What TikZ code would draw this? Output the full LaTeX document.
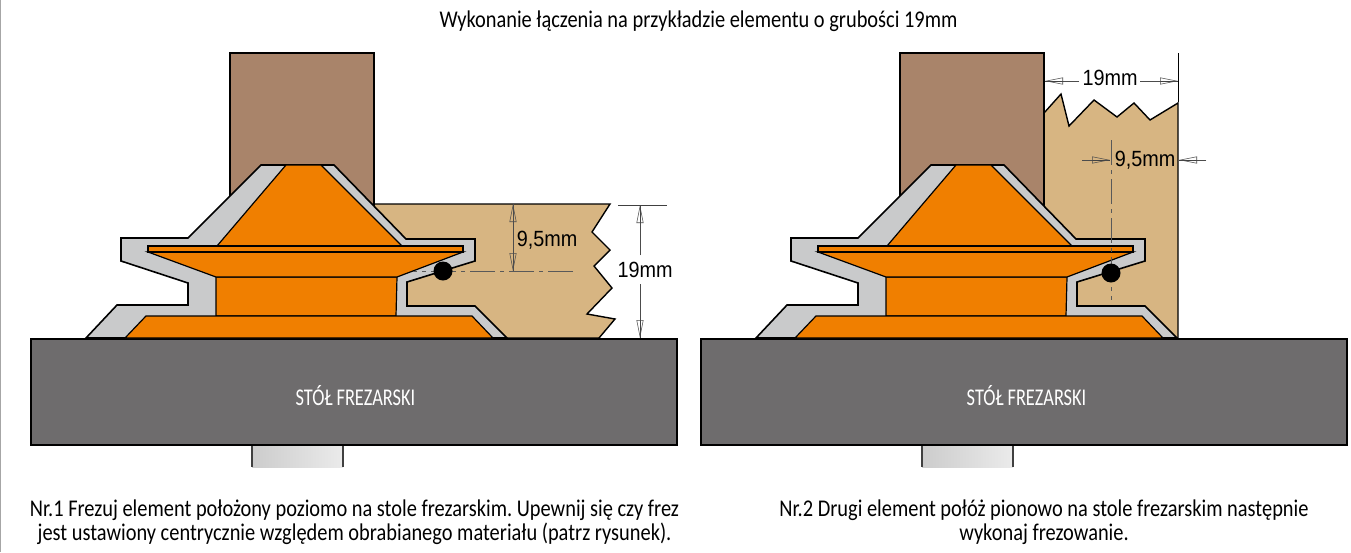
\documentclass[tikz,border=0pt]{standalone}
\usepackage{fontspec}
\setmainfont[FakeStretch=0.85]{Carlito}
\newfontfamily\tablefont[FakeStretch=0.765]{Carlito}
\newfontfamily\dimfont[FakeStretch=0.9]{Liberation Sans}
\usetikzlibrary{arrows.meta}
\definecolor{brownblk}{HTML}{A9846A}
\definecolor{woodc}{HTML}{D7B582}
\definecolor{grayc}{HTML}{C9CACB}
\definecolor{orangec}{HTML}{F07F00}
\definecolor{tablec}{HTML}{6E6C6D}
\tikzset{
  x=1pt,y=-1pt,
  part/.style={draw=black,line width=1.6pt,line join=miter,miter limit=4},
  woodpart/.style={draw=black,line width=1.4pt,line join=miter,fill=woodc},
  thinpart/.style={draw=black,line width=1.2pt,line join=miter,fill=orangec},
  dimln/.style={draw=black!75,line width=.55pt},
  hollow/.style={draw=black!70,line width=.55pt,-{Triangle[open,length=18pt,width=7pt]}},
  centreln/.style={draw=black!65,line width=.7pt,dash pattern=on 25pt off 5pt on 4pt off 5pt},
  dimtxt/.style={font=\dimfont\fontsize{22}{24}\selectfont,text=black,inner sep=0pt,anchor=center},
  captxt/.style={font=\frenchspacing\fontsize{24}{24}\selectfont,text=black,inner sep=0pt,align=center,anchor=center},
  tabletxt/.style={font=\tablefont\fontsize{24}{24}\selectfont,text=white,inner sep=0pt,anchor=center},
  ballnode/.style={circle,fill=black,minimum size=19pt,inner sep=0pt},
}
\newcommand\routerbit{%
  \fill[brownblk] (230,53) rectangle (374,204);
  \draw[part] (230,196) -- (230,53) -- (374,53) -- (374,207);
  \fill[tablec] (31,339) rectangle (677,445);
  \draw[part] (31,339) rectangle (677,445);
  \shade[left color=black!20,right color=black!8] (252,446) rectangle (343,467);
  \draw[line width=1.4pt,black!75] (252,446) -- (252,467) (343,446) -- (343,467);
  \draw[part,fill=grayc] (86,338) -- (117,305) -- (188,305) -- (188,283) -- (121,261) -- (121,238) -- (188,238)
     -- (261,165) -- (334,165) -- (406,239) -- (475,239) -- (475,261) -- (407,282) -- (407,306) -- (475,306)
     -- (507,338) -- cycle;
  \draw[thinpart] (286,165) -- (321,165) -- (402,246) -- (217,246) -- cycle;
  \draw[thinpart] (216,277) -- (397,277) -- (396,316) -- (216,316) -- cycle;
  \draw[thinpart] (146,316) -- (472,316) -- (493,338) -- (125,338) -- cycle;
  \draw[thinpart] (148,252) -- (463,252) -- (397,277) -- (216,277) -- cycle;
  \draw[thinpart] (148,246) -- (463,246) -- (463,252) -- (148,252) -- cycle;
}
\begin{document}
\begin{tikzpicture}
\useasboundingbox (0,0) rectangle (1351,552);
\fill[white] (0,0) rectangle (1351,552);
\draw[black!35,line width=1.5pt] (0.5,0) -- (0.5,552);

% wood pieces (behind the cutter)
\draw[woodpart] (374,204) -- (610,204) -- (592,232) -- (610,250) -- (594,266) -- (612,288) -- (587,314) -- (615,319) -- (599,338) -- (400,338) -- (374,250) -- cycle;
\draw[woodpart] (1044,113) -- (1061,94) -- (1069,126) -- (1094,100) -- (1117,117) -- (1134,103) -- (1150,120) -- (1178,103) -- (1178,338) -- (1070,338) -- (1044,250) -- cycle;

\routerbit
\begin{scope}[xshift=670pt]\routerbit\end{scope}

% left dimensions
\coordinate (cl1a) at (413,271); \coordinate (cl1b) at (573,271);
\draw[centreln] (cl1b) -- (cl1a);
\coordinate (d1t) at (513,204); \coordinate (d1b) at (513,271);
\draw[dimln] (d1t) -- (d1b);
\draw[hollow] (d1b) -- (d1t);
\draw[hollow] (d1t) -- (d1b);
\node[dimtxt] (t95a) at (547,240) {9,5mm};
\coordinate (t1a) at (618,205); \coordinate (t1b) at (667,205);
\draw[dimln] (t1a) -- (t1b);
\node[dimtxt] (t19a) at (645,270) {19mm};
\coordinate (d2t) at (640,205); \coordinate (d2b) at (640,338);
\coordinate (d2m) at (640,255); \coordinate (d2n) at (640,284);
\draw[dimln] (d2m) -- (d2t) (d2n) -- (d2b);
\draw[hollow] (d2m) -- (d2t);
\draw[hollow] (d2n) -- (d2b);
\node[ballnode] (ball1) at (443,271) {};

% right dimensions
\coordinate (t2a) at (1178,53); \coordinate (t2b) at (1178,102);
\draw[line width=.8pt,black] (t2a) -- (t2b);
\node[dimtxt] (t19b) at (1110,78) {19mm};
\coordinate (d3l) at (1045,81); \coordinate (d3r) at (1178,81);
\coordinate (d3a) at (1079,81); \coordinate (d3b) at (1140,81);
\draw[dimln] (d3a) -- (d3l) (d3b) -- (d3r);
\draw[hollow] (d3a) -- (d3l);
\draw[hollow] (d3b) -- (d3r);
\coordinate (cl2a) at (1111,140); \coordinate (cl2b) at (1111,300);
\draw[centreln] (cl2a) -- (cl2b);
\node[dimtxt] (t95b) at (1145,160) {9,5mm};
\coordinate (d4a) at (1082,160); \coordinate (d4b) at (1110,160);
\coordinate (d4c) at (1206,160); \coordinate (d4d) at (1179,160);
\draw[dimln] (d4a) -- (d4b) (d4c) -- (d4d);
\draw[hollow] (d4a) -- (d4b);
\draw[hollow] (d4c) -- (d4d);
\node[ballnode] (ball2) at (1111,273) {};

% texts
\node[captxt] (title) at (698.5,21) {Wykonanie łączenia na przykładzie elementu o grubości 19mm};
\node[tabletxt] (tab1) at (355.5,396) {STÓŁ FREZARSKI};
\node[tabletxt] (tab2) at (1026.5,396) {STÓŁ FREZARSKI};
\node[captxt] (cap1) at (354.5,522) {Nr.1 Frezuj element położony poziomo na stole frezarskim. Upewnij się czy frez\\jest ustawiony centrycznie względem obrabianego materiału (patrz rysunek).};
\node[captxt] (cap2) at (1044,522) {Nr.2 Drugi element połóż pionowo na stole frezarskim następnie\\wykonaj frezowanie.};
\end{tikzpicture}
\end{document}
